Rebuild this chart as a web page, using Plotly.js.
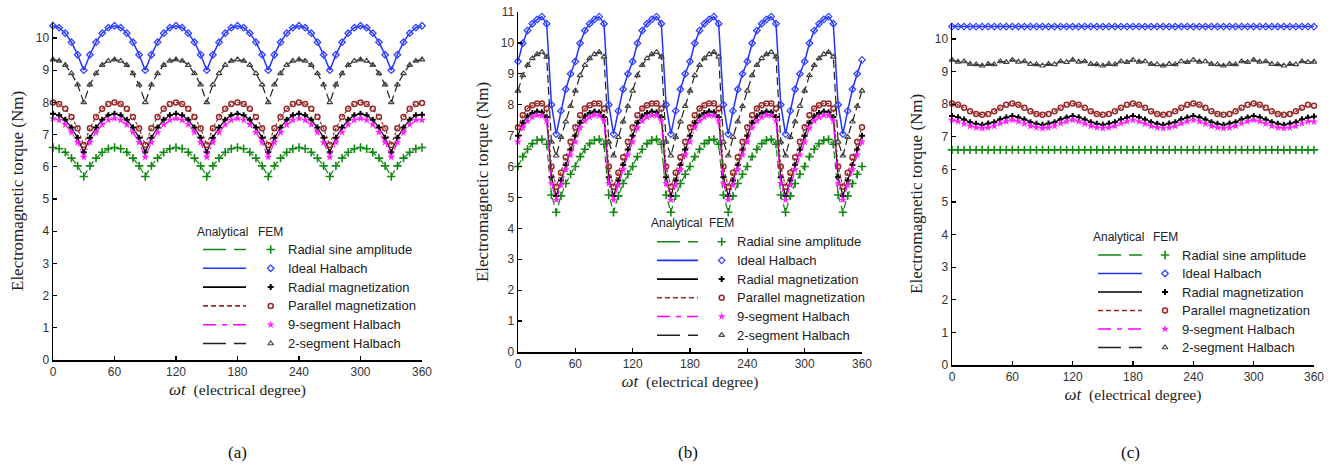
<!DOCTYPE html>
<html><head><meta charset="utf-8">
<script src="https://cdn.plot.ly/plotly-3.0.1.min.js"></script>
<style>html,body{margin:0;padding:0;background:#fff}#chart{width:1338px;height:466px}</style>
</head><body><div id="chart"></div>
<script>
// ---------------- DATA ----------------
const seriesNames = ["Radial sine amplitude","Ideal Halbach","Radial magnetization","Parallel magnetization","9-segment Halbach","2-segment Halbach"];
const xTicks = [0,60,120,180,240,300,360];
const panelLabels = ["(a)","(b)","(c)"];

// (a) electrical degree, 6 deg step
const xA = [0,6,12,18,24,30,36,42,48,54,60,66,72,78,84,90,96,102,108,114,120,126,132,138,144,150,156,162,168,174,180,186,192,198,204,210,216,222,228,234,240,246,252,258,264,270,276,282,288,294,300,306,312,318,324,330,336,342,348,354,360];
const aGreen = [6.6,6.56,6.45,6.27,6.03,5.7,6.03,6.27,6.45,6.56, 6.6,6.56,6.45,6.27,6.03,5.7,6.03,6.27,6.45,6.56, 6.6,6.56,6.45,6.27,6.03,5.7,6.03,6.27,6.45,6.56, 6.6,6.56,6.45,6.27,6.03,5.7,6.03,6.27,6.45,6.56, 6.6,6.56,6.45,6.27,6.03,5.7,6.03,6.27,6.45,6.56, 6.6,6.56,6.45,6.27,6.03,5.7,6.03,6.27,6.45,6.56, 6.6];
const aBlue = [10.38,10.32,10.15,9.87,9.48,9.0,9.48,9.87,10.15,10.32, 10.38,10.32,10.15,9.87,9.48,9.0,9.48,9.87,10.15,10.32, 10.38,10.32,10.15,9.87,9.48,9.0,9.48,9.87,10.15,10.32, 10.38,10.32,10.15,9.87,9.48,9.0,9.48,9.87,10.15,10.32, 10.38,10.32,10.15,9.87,9.48,9.0,9.48,9.87,10.15,10.32, 10.38,10.32,10.15,9.87,9.48,9.0,9.48,9.87,10.15,10.32, 10.38];
const aRadial = [7.65,7.6,7.46,7.22,6.9,6.45,6.9,7.22,7.46,7.6, 7.65,7.6,7.46,7.22,6.9,6.45,6.9,7.22,7.46,7.6, 7.65,7.6,7.46,7.22,6.9,6.45,6.9,7.22,7.46,7.6, 7.65,7.6,7.46,7.22,6.9,6.45,6.9,7.22,7.46,7.6, 7.65,7.6,7.46,7.22,6.9,6.45,6.9,7.22,7.46,7.6, 7.65,7.6,7.46,7.22,6.9,6.45,6.9,7.22,7.46,7.6, 7.62];
const aParallel = [8.0,7.95,7.8,7.55,7.2,6.68,7.2,7.55,7.8,7.95, 8.0,7.95,7.8,7.55,7.2,6.68,7.2,7.55,7.8,7.95, 8.0,7.95,7.8,7.55,7.2,6.68,7.2,7.55,7.8,7.95, 8.0,7.95,7.8,7.55,7.2,6.68,7.2,7.55,7.8,7.95, 8.0,7.95,7.8,7.55,7.2,6.68,7.2,7.55,7.8,7.95, 8.0,7.95,7.8,7.55,7.2,6.68,7.2,7.55,7.8,7.95, 7.98];
const a9seg = [7.5,7.45,7.31,7.07,6.76,6.3,6.76,7.07,7.31,7.45, 7.5,7.45,7.31,7.07,6.76,6.3,6.76,7.07,7.31,7.45, 7.5,7.45,7.31,7.07,6.76,6.3,6.76,7.07,7.31,7.45, 7.5,7.45,7.31,7.07,6.76,6.3,6.76,7.07,7.31,7.45, 7.5,7.45,7.31,7.07,6.76,6.3,6.76,7.07,7.31,7.45, 7.5,7.45,7.31,7.07,6.76,6.3,6.76,7.07,7.31,7.45, 7.45];
const a2seg = [9.33,9.29,9.16,8.9,8.55,8.0,8.55,8.9,9.16,9.29, 9.33,9.29,9.16,8.9,8.55,8.0,8.55,8.9,9.16,9.29, 9.33,9.29,9.16,8.9,8.55,8.0,8.55,8.9,9.16,9.29, 9.33,9.29,9.16,8.9,8.55,8.0,8.55,8.9,9.16,9.29, 9.33,9.29,9.16,8.9,8.55,8.0,8.55,8.9,9.16,9.29, 9.33,9.29,9.16,8.9,8.55,8.0,8.55,8.9,9.16,9.29, 9.33];

// (b) electrical degree, 5 deg step
const xB = [0,5,10,15,20,25,30,35,40,45,50,55,60,65,70,75,80,85,90,95,100,105,110,115,120,125,130,135,140,145,150,155,160,165,170,175,180,185,190,195,200,205,210,215,220,225,230,235,240,245,250,255,260,265,270,275,280,285,290,295,300,305,310,315,320,325,330,335,340,345,350,355,360];
const bGreen = [6.0,6.32,6.56,6.74,6.85,6.88,6.72,5.08,4.52,5.05,5.45,5.75, 6.0,6.32,6.56,6.74,6.85,6.88,6.72,5.08,4.52,5.05,5.45,5.75, 6.0,6.32,6.56,6.74,6.85,6.88,6.72,5.08,4.52,5.05,5.45,5.75, 6.0,6.32,6.56,6.74,6.85,6.88,6.72,5.08,4.52,5.05,5.45,5.75, 6.0,6.32,6.56,6.74,6.85,6.88,6.72,5.08,4.52,5.05,5.45,5.75, 6.0,6.32,6.56,6.74,6.85,6.88,6.72,5.08,4.52,5.05,5.45,5.75, 6.0];
const bBlue = [9.4,9.99,10.4,10.62,10.76,10.85,10.62,8.0,7.05,7.8,8.5,9.0, 9.4,9.99,10.4,10.62,10.76,10.85,10.62,8.0,7.05,7.8,8.5,9.0, 9.4,9.99,10.4,10.62,10.76,10.85,10.62,8.0,7.05,7.8,8.5,9.0, 9.4,9.99,10.4,10.62,10.76,10.85,10.62,8.0,7.05,7.8,8.5,9.0, 9.4,9.99,10.4,10.62,10.76,10.85,10.62,8.0,7.05,7.8,8.5,9.0, 9.4,9.99,10.4,10.62,10.76,10.85,10.62,8.0,7.05,7.8,8.5,9.0, 9.45];
const bRadial = [7.0,7.42,7.63,7.73,7.78,7.76,7.6,5.65,5.05,5.55,6.05,6.55, 7.0,7.42,7.63,7.73,7.78,7.76,7.6,5.65,5.05,5.55,6.05,6.55, 7.0,7.42,7.63,7.73,7.78,7.76,7.6,5.65,5.05,5.55,6.05,6.55, 7.0,7.42,7.63,7.73,7.78,7.76,7.6,5.65,5.05,5.55,6.05,6.55, 7.0,7.42,7.63,7.73,7.78,7.76,7.6,5.65,5.05,5.55,6.05,6.55, 7.0,7.42,7.63,7.73,7.78,7.76,7.6,5.65,5.05,5.55,6.05,6.55, 7.0];
const bParallel = [7.27,7.66,7.88,7.98,8.04,8.04,7.88,6.0,5.35,5.8,6.3,6.8, 7.27,7.66,7.88,7.98,8.04,8.04,7.88,6.0,5.35,5.8,6.3,6.8, 7.27,7.66,7.88,7.98,8.04,8.04,7.88,6.0,5.35,5.8,6.3,6.8, 7.27,7.66,7.88,7.98,8.04,8.04,7.88,6.0,5.35,5.8,6.3,6.8, 7.27,7.66,7.88,7.98,8.04,8.04,7.88,6.0,5.35,5.8,6.3,6.8, 7.27,7.66,7.88,7.98,8.04,8.04,7.88,6.0,5.35,5.8,6.3,6.8, 7.27];
const b9seg = [6.8,7.25,7.47,7.6,7.66,7.65,7.48,5.45,4.92,5.4,5.9,6.38, 6.8,7.25,7.47,7.6,7.66,7.65,7.48,5.45,4.92,5.4,5.9,6.38, 6.8,7.25,7.47,7.6,7.66,7.65,7.48,5.45,4.92,5.4,5.9,6.38, 6.8,7.25,7.47,7.6,7.66,7.65,7.48,5.45,4.92,5.4,5.9,6.38, 6.8,7.25,7.47,7.6,7.66,7.65,7.48,5.45,4.92,5.4,5.9,6.38, 6.8,7.25,7.47,7.6,7.66,7.65,7.48,5.45,4.92,5.4,5.9,6.38, 6.8];
const b2seg = [8.45,8.95,9.28,9.5,9.63,9.7,9.55,6.8,6.35,6.95,7.45,7.95, 8.45,8.95,9.28,9.5,9.63,9.7,9.55,6.8,6.35,6.95,7.45,7.95, 8.45,8.95,9.28,9.5,9.63,9.7,9.55,6.8,6.35,6.95,7.45,7.95, 8.45,8.95,9.28,9.5,9.63,9.7,9.55,6.8,6.35,6.95,7.45,7.95, 8.45,8.95,9.28,9.5,9.63,9.7,9.55,6.8,6.35,6.95,7.45,7.95, 8.45,8.95,9.28,9.5,9.63,9.7,9.55,6.8,6.35,6.95,7.45,7.95, 8.45];

// (c) electrical degree, 6 deg step
const xC = [0,6,12,18,24,30,36,42,48,54,60,66,72,78,84,90,96,102,108,114,120,126,132,138,144,150,156,162,168,174,180,186,192,198,204,210,216,222,228,234,240,246,252,258,264,270,276,282,288,294,300,306,312,318,324,330,336,342,348,354,360];
const cGreen = [6.6,6.6,6.6,6.6,6.6,6.6,6.6,6.6,6.6,6.6, 6.6,6.6,6.6,6.6,6.6,6.6,6.6,6.6,6.6,6.6, 6.6,6.6,6.6,6.6,6.6,6.6,6.6,6.6,6.6,6.6, 6.6,6.6,6.6,6.6,6.6,6.6,6.6,6.6,6.6,6.6, 6.6,6.6,6.6,6.6,6.6,6.6,6.6,6.6,6.6,6.6, 6.6,6.6,6.6,6.6,6.6,6.6,6.6,6.6,6.6,6.6, 6.6];
const cBlue = [10.38,10.38,10.38,10.38,10.38,10.38,10.38,10.38,10.38,10.38, 10.38,10.38,10.38,10.38,10.38,10.38,10.38,10.38,10.38,10.38, 10.38,10.38,10.38,10.38,10.38,10.38,10.38,10.38,10.38,10.38, 10.38,10.38,10.38,10.38,10.38,10.38,10.38,10.38,10.38,10.38, 10.38,10.38,10.38,10.38,10.38,10.38,10.38,10.38,10.38,10.38, 10.38,10.38,10.38,10.38,10.38,10.38,10.38,10.38,10.38,10.38, 10.38];
const cRadial = [7.64,7.6,7.53,7.45,7.4,7.37,7.41,7.45,7.54,7.59, 7.64,7.6,7.53,7.45,7.4,7.37,7.41,7.45,7.54,7.59, 7.64,7.6,7.53,7.45,7.4,7.37,7.41,7.45,7.54,7.59, 7.64,7.6,7.53,7.45,7.4,7.37,7.41,7.45,7.54,7.59, 7.64,7.6,7.53,7.45,7.4,7.37,7.41,7.45,7.54,7.59, 7.64,7.6,7.53,7.45,7.4,7.37,7.41,7.45,7.54,7.59, 7.62];
const cParallel = [8.02,7.98,7.89,7.78,7.7,7.68,7.7,7.78,7.89,7.98, 8.02,7.98,7.89,7.78,7.7,7.68,7.7,7.78,7.89,7.98, 8.02,7.98,7.89,7.78,7.7,7.68,7.7,7.78,7.89,7.98, 8.02,7.98,7.89,7.78,7.7,7.68,7.7,7.78,7.89,7.98, 8.02,7.98,7.89,7.78,7.7,7.68,7.7,7.78,7.89,7.98, 8.02,7.98,7.89,7.78,7.7,7.68,7.7,7.78,7.89,7.98, 7.95];
const c9seg = [7.51,7.47,7.4,7.33,7.28,7.26,7.28,7.33,7.41,7.47, 7.51,7.47,7.4,7.33,7.28,7.26,7.28,7.33,7.41,7.47, 7.51,7.47,7.4,7.33,7.28,7.26,7.28,7.33,7.41,7.47, 7.51,7.47,7.4,7.33,7.28,7.26,7.28,7.33,7.41,7.47, 7.51,7.47,7.4,7.33,7.28,7.26,7.28,7.33,7.41,7.47, 7.51,7.47,7.4,7.33,7.28,7.26,7.28,7.33,7.41,7.47, 7.46];
const c2seg = [9.36,9.3,9.31,9.23,9.22,9.18,9.23,9.22,9.31,9.29, 9.36,9.3,9.31,9.23,9.22,9.18,9.23,9.22,9.31,9.29, 9.36,9.3,9.31,9.23,9.22,9.18,9.23,9.22,9.31,9.29, 9.36,9.3,9.31,9.23,9.22,9.18,9.23,9.22,9.31,9.29, 9.36,9.3,9.31,9.23,9.22,9.18,9.23,9.22,9.31,9.29, 9.36,9.3,9.31,9.23,9.22,9.18,9.23,9.22,9.31,9.29, 9.3];

// ---------------- STYLE / LAYOUT ----------------
const W = 1338, H = 466;
const styles = [
  {line:{color:'#118a11', width:1.2, dash:'7px,4px'}, marker:{symbol:'cross-thin-open', size:6, color:'#118a11', line:{width:1.6, color:'#118a11'}}},
  {line:{color:'#2233ff', width:1.5, dash:'solid'}, marker:{symbol:'diamond-open', size:5, color:'#3344ff', line:{width:1.3, color:'#3344ff'}}},
  {line:{color:'#000000', width:1.2, dash:'solid'}, marker:{symbol:'cross', size:5, color:'#000000', line:{width:0}}},
  {line:{color:'#9a2a2a', width:1.2, dash:'3px,2px'}, marker:{symbol:'circle-open', size:5, color:'#9a2a2a', line:{width:1.5, color:'#9a2a2a'}}},
  {line:{color:'#ff00ff', width:1.2, dash:'8px,3px,2px,3px'}, marker:{symbol:'star', size:6, color:'#ff22ff', line:{width:0}}},
  {line:{color:'#222222', width:1.2, dash:'8px,4px'}, marker:{symbol:'triangle-up-open', size:5, color:'#444444', line:{width:1.2, color:'#444444'}}}
];
const panels = [
  {ax:'', x:xA, ys:[aGreen,aBlue,aRadial,aParallel,a9seg,a2seg], xd:[53,422], yd:[360,21.9], yr:[0,10.5], yt:[0,1,2,3,4,5,6,7,8,9,10],
   leg:{hy:231.7, ax:222.5, fx:270.5, y0:249.5, dy:18.8, l1:203, l2:246, mx:270.7, tx:286}, lab:{x:237, y:452}},
  {ax:'2', x:xB, ys:[bGreen,bBlue,bRadial,bParallel,b9seg,b2seg], xd:[518,862], yd:[352,12], yr:[0,11], yt:[0,1,2,3,4,5,6,7,8,9,10,11],
   leg:{hy:223.3, ax:676, fx:721, y0:241.7, dy:18.7, l1:657, l2:698, mx:721.7, tx:735}, lab:{x:688, y:452}},
  {ax:'3', x:xC, ys:[cGreen,cBlue,cRadial,cParallel,c9seg,c2seg], xd:[952,1314], yd:[365,22.7], yr:[0,10.5], yt:[0,1,2,3,4,5,6,7,8,9,10],
   leg:{hy:236.7, ax:1118, fx:1165.5, y0:255, dy:18.5, l1:1098, l2:1142, mx:1165, tx:1180}, lab:{x:1130, y:452}}
];

const tickFont = {family:'Liberation Sans, Arial, sans-serif', size:12, color:'#333'};
const serif = 'Liberation Serif, Times New Roman, serif';
const legFont = {family:'Liberation Sans, Arial, sans-serif', size:13, color:'#222'};

const traces = [];
const annotations = [];
const layout = {
  width:W, height:H, margin:{l:0,r:0,t:0,b:0},
  paper_bgcolor:'#fff', plot_bgcolor:'rgba(0,0,0,0)',
  showlegend:false, annotations:annotations,
  xaxis4:{domain:[0,1], range:[0,W], visible:false, fixedrange:true},
  yaxis4:{domain:[0,1], range:[H,0], visible:false, fixedrange:true, anchor:'x4'}
};

panels.forEach((p, pi) => {
  const xa = 'x' + p.ax, ya = 'y' + p.ax;
  p.ys.forEach((y, i) => {
    traces.push({type:'scatter', mode:'lines+markers', x:p.x, y:y, xaxis:xa, yaxis:ya,
      name:seriesNames[i], line:styles[i].line, marker:styles[i].marker, cliponaxis:false, hoverinfo:'skip'});
  });
  layout['xaxis' + p.ax] = {
    domain:[p.xd[0]/W, p.xd[1]/W], range:[0,360], tickvals:xTicks, ticktext:xTicks.map(String),
    showline:true, linecolor:'#000', linewidth:1.5, ticks:'inside', ticklen:4, tickcolor:'#000', tickwidth:1.2,
    showgrid:false, zeroline:false, tickfont:tickFont, anchor:ya,
    title:{text:'<span style="font-size:17px"><i>ωt</i></span>  (electrical degree)', font:{family:serif, size:15.5, color:'#222'}, standoff:6}
  };
  layout['yaxis' + p.ax] = {
    domain:[1 - p.yd[0]/H, 1 - p.yd[1]/H], range:p.yr, tickvals:p.yt, ticktext:p.yt.map(String),
    showline:true, linecolor:'#000', linewidth:1.5, ticks:'inside', ticklen:4, tickcolor:'#000', tickwidth:1.2,
    showgrid:false, zeroline:false, tickfont:tickFont, anchor:xa,
    title:{text:'Electromagnetic torque (Nm)', font:{family:serif, size:17, color:'#222'}, standoff:8}
  };
  // custom legend
  const L = p.leg;
  annotations.push({xref:'x4', yref:'y4', x:L.ax, y:L.hy, text:'Analytical', showarrow:false, xanchor:'center', yanchor:'middle', font:{family:legFont.family, size:12, color:'#222'}});
  annotations.push({xref:'x4', yref:'y4', x:L.fx, y:L.hy, text:'FEM', showarrow:false, xanchor:'center', yanchor:'middle', font:{family:legFont.family, size:12, color:'#222'}});
  seriesNames.forEach((nm, i) => {
    const yy = L.y0 + i*L.dy;
    const ln = Object.assign({}, styles[i].line, {width:1.6});
    if (i === 0 || i === 5) ln.dash = '23px,8px';
    if (i === 3) ln.dash = '5px,3px';
    if (i === 4) ln.dash = '13px,6px,5px,6px';
    traces.push({type:'scatter', mode:'lines', x:[L.l1, L.l2], y:[yy, yy], xaxis:'x4', yaxis:'y4', line:ln, hoverinfo:'skip'});
    traces.push({type:'scatter', mode:'markers', x:[L.mx], y:[yy], xaxis:'x4', yaxis:'y4', marker:styles[i].marker, hoverinfo:'skip'});
    annotations.push({xref:'x4', yref:'y4', x:L.tx, y:yy, text:nm, showarrow:false, xanchor:'left', yanchor:'middle', font:legFont});
  });
  annotations.push({xref:'paper', yref:'paper', x:p.lab.x/W, y:1 - p.lab.y/H, text:panelLabels[pi], showarrow:false, xanchor:'center', yanchor:'middle', font:{family:serif, size:17, color:'#111'}});
});

Plotly.newPlot('chart', traces, layout, {staticPlot:true, displayModeBar:false});
</script>
</body></html>
